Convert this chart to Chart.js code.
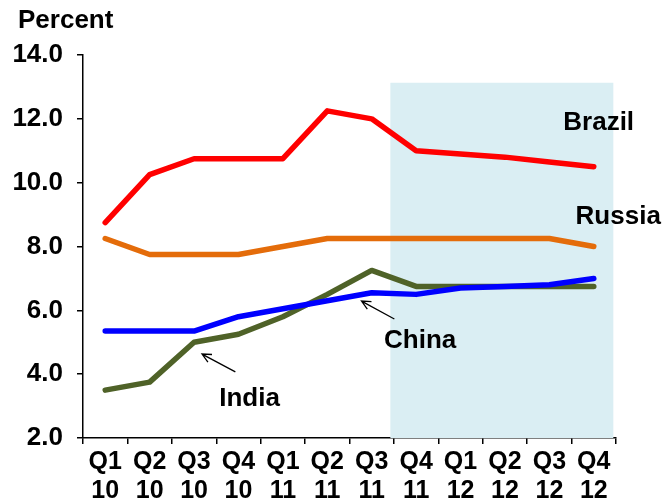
<!DOCTYPE html>
<html>
<head>
<meta charset="utf-8">
<script src="https://cdn.jsdelivr.net/npm/chart.js@4.4.1/dist/chart.umd.min.js"></script>
<style>
  body { margin: 0; background: #fff; }
  #wrap { width: 667px; height: 503px; }
</style>
</head>
<body>
<div id="wrap"><canvas id="myChart" width="667" height="503"></canvas></div>
<script>
// Quarterly labels (quarter / year)
const quarters = [
  ['Q1', '10'], ['Q2', '10'], ['Q3', '10'], ['Q4', '10'],
  ['Q1', '11'], ['Q2', '11'], ['Q3', '11'], ['Q4', '11'],
  ['Q1', '12'], ['Q2', '12'], ['Q3', '12'], ['Q4', '12']
];

// Percent values per country
const brazil = [8.75, 10.25, 10.75, 10.75, 10.75, 12.25, 12.0, 11.0, 10.9, 10.8, 10.65, 10.5];
const russia = [8.25, 7.75, 7.75, 7.75, 8.0, 8.25, 8.25, 8.25, 8.25, 8.25, 8.25, 8.0];
const china  = [5.35, 5.35, 5.35, 5.8, 6.05, 6.3, 6.55, 6.5, 6.7, 6.75, 6.8, 7.0];
const india  = [3.5, 3.75, 5.0, 5.25, 5.8, 6.5, 7.25, 6.75, 6.75, 6.75, 6.75, 6.75];

const yTicks = [2, 4, 6, 8, 10, 12, 14];

// forecast band, in category index / percent units
const shadeFrom = 6.42;
const shadeTo = 11.44;
const shadeTop = 13.13;

const FAMILY = '"Liberation Sans", Arial, sans-serif';
const FONT = 'bold 26px ' + FAMILY;

// shaded forecast period behind the lines
const shadePlugin = {
  id: 'shade',
  beforeDatasetsDraw(chart) {
    const { ctx, chartArea, scales: { x, y } } = chart;
    const x0 = x.getPixelForValue(shadeFrom);
    const x1 = x.getPixelForValue(shadeTo);
    const y0 = y.getPixelForValue(shadeTop);
    ctx.save();
    ctx.fillStyle = '#DAEEF3';
    ctx.fillRect(x0, y0, x1 - x0, chartArea.bottom - y0);
    ctx.restore();
  }
};

// country names, arrows and the unit label
const labelPlugin = {
  id: 'labels',
  afterDatasetsDraw(chart) {
    const { ctx, scales: { x, y } } = chart;
    ctx.save();
    ctx.font = FONT;
    ctx.fillStyle = '#000';
    ctx.textBaseline = 'alphabetic';

    ctx.textAlign = 'left';
    ctx.fillText('Percent', 18, 28);

    ctx.textAlign = 'center';
    const names = [
      ['Brazil', 11.11, 11.65],
      ['Russia', 11.55, 8.71],
      ['China', 7.09, 4.82],
      ['India', 3.25, 3.0]
    ];
    names.forEach(([t, i, v]) => ctx.fillText(t, x.getPixelForValue(i), y.getPixelForValue(v)));

    const arrows = [
      [2.93, 4.07, 2.18, 4.63],
      [6.51, 5.73, 5.77, 6.29]
    ];
    ctx.strokeStyle = '#000';
    ctx.lineWidth = 1.3;
    arrows.forEach(([i0, v0, i1, v1]) => {
      const ax = x.getPixelForValue(i0), ay = y.getPixelForValue(v0);
      const bx = x.getPixelForValue(i1), by = y.getPixelForValue(v1);
      const ang = Math.atan2(by - ay, bx - ax);
      ctx.beginPath();
      ctx.moveTo(ax, ay);
      ctx.lineTo(bx, by);
      ctx.moveTo(bx - 10 * Math.cos(ang - 0.45), by - 10 * Math.sin(ang - 0.45));
      ctx.lineTo(bx, by);
      ctx.lineTo(bx - 10 * Math.cos(ang + 0.45), by - 10 * Math.sin(ang + 0.45));
      ctx.stroke();
    });
    ctx.restore();
  }
};

const lineStyle = {
  borderWidth: 5.5,
  pointRadius: 0,
  tension: 0,
  borderCapStyle: 'round',
  borderJoinStyle: 'round',
  fill: false
};

const ctx = document.getElementById('myChart').getContext('2d');
const myChart = new Chart(ctx, {
  type: 'line',
  data: {
    labels: quarters,
    datasets: [
      { label: 'Brazil', data: brazil, borderColor: '#FF0000', ...lineStyle },
      { label: 'Russia', data: russia, borderColor: '#E46C0A', ...lineStyle },
      { label: 'China', data: china, borderColor: '#0000FF', ...lineStyle },
      { label: 'India', data: india, borderColor: '#4F6228', ...lineStyle }
    ]
  },
  options: {
    responsive: false,
    animation: false,
    layout: { padding: { top: 55, right: 51, left: 0, bottom: 0 } },
    plugins: {
      legend: { display: false },
      tooltip: { enabled: false }
    },
    scales: {
      x: {
        offset: true,
        grid: { offset: true, drawOnChartArea: false, drawTicks: true, tickLength: 6, color: '#000', lineWidth: 1.5 },
        border: { color: '#000', width: 1.5 },
        ticks: {
          color: '#000',
          font: { family: FAMILY, size: 25, weight: 'bold', lineHeight: 1.15 },
          padding: 4,
          maxRotation: 0,
          autoSkip: false
        },
        afterFit(scale) { scale.height = 65; }
      },
      y: {
        min: 2,
        max: 14,
        afterBuildTicks(scale) { scale.ticks = yTicks.map(v => ({ value: v })); },
        grid: { drawOnChartArea: false, drawTicks: true, tickLength: 6, color: '#000', lineWidth: 1.5 },
        border: { color: '#000', width: 1.5 },
        ticks: {
          color: '#000',
          font: { family: FAMILY, size: 26, weight: 'bold' },
          padding: 14,
          callback: v => v.toFixed(1)
        },
        afterFit(scale) { scale.width = 83; }
      }
    }
  },
  plugins: [shadePlugin, labelPlugin]
});
</script>
</body>
</html>
